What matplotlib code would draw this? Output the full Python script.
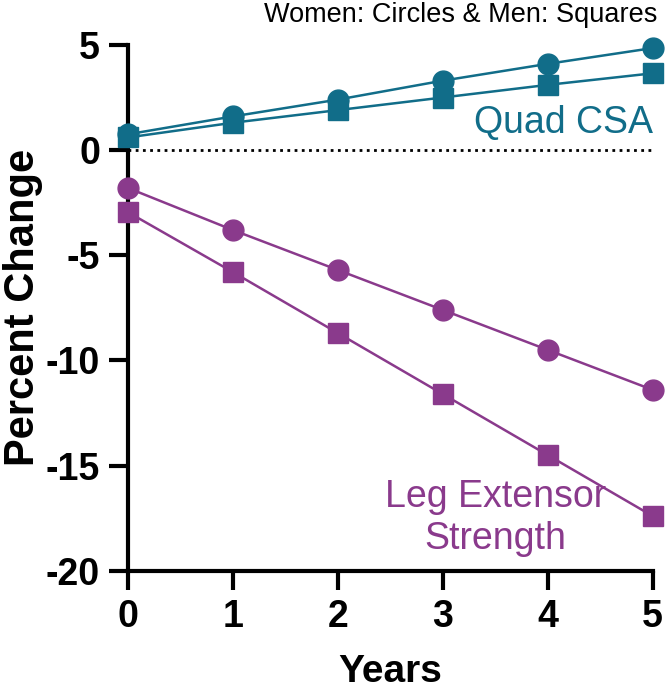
import numpy as np
import matplotlib
matplotlib.use("Agg")
import matplotlib.pyplot as plt

plt.rcParams['font.family'] = ['Liberation Sans', 'DejaVu Sans']
plt.rcParams['axes.unicode_minus'] = False

years = [0, 1, 2, 3, 4, 5]
quad_women = [0.75, 1.6, 2.4, 3.3, 4.1, 4.85]
quad_men = [0.6, 1.3, 1.9, 2.5, 3.1, 3.65]
leg_women = [-1.8, -3.8, -5.7, -7.6, -9.5, -11.4]
leg_men = [-2.95, -5.8, -8.7, -11.6, -14.5, -17.4]

teal = '#116d89'
purple = '#8a3a8c'

fig = plt.figure(figsize=(6.66, 6.91), dpi=100)
ax = fig.add_axes([0.192, 0.174, 0.788, 0.761])

ax.plot(years, [0] * len(years), color='black', lw=2, ls=(0, (1, 1.6)), zorder=1)

ax.plot(years, quad_women, color=teal, lw=1.8, marker='o', ms=15, clip_on=False, zorder=3)
ax.plot(years, quad_men, color=teal, lw=1.8, marker='s', ms=14, clip_on=False, zorder=3)
ax.plot(years, leg_women, color=purple, lw=1.8, marker='o', ms=15, clip_on=False, zorder=3)
ax.plot(years, leg_men, color=purple, lw=1.8, marker='s', ms=14, clip_on=False, zorder=3)

ax.set_xlim(0, 5)
ax.set_ylim(-20, 5)
ax.set_xticks(years)
ax.set_yticks([5, 0, -5, -10, -15, -20])
ax.spines['top'].set_visible(False)
ax.spines['right'].set_visible(False)
for s in ['left', 'bottom']:
    ax.spines[s].set_linewidth(3)
ax.tick_params(width=3, length=14, labelsize=27, pad=6)
for lab in ax.get_xticklabels() + ax.get_yticklabels():
    lab.set_fontweight('bold')

ax.set_xlabel('Years', fontsize=28, fontweight='bold', labelpad=14)
ax.set_ylabel('Percent Change', fontsize=30, fontweight='bold', labelpad=2)

ax.text(5.0, 1.3, 'Quad CSA', color=teal, fontsize=27, ha='right', va='center')
ax.text(3.5, -17.5, 'Leg Extensor\nStrength', color=purple, fontsize=27,
        ha='center', va='center', linespacing=1.2)
fig.text(0.987, 0.997, 'Women: Circles & Men: Squares', fontsize=19.5,
         ha='right', va='top')

plt.savefig("out.png")
